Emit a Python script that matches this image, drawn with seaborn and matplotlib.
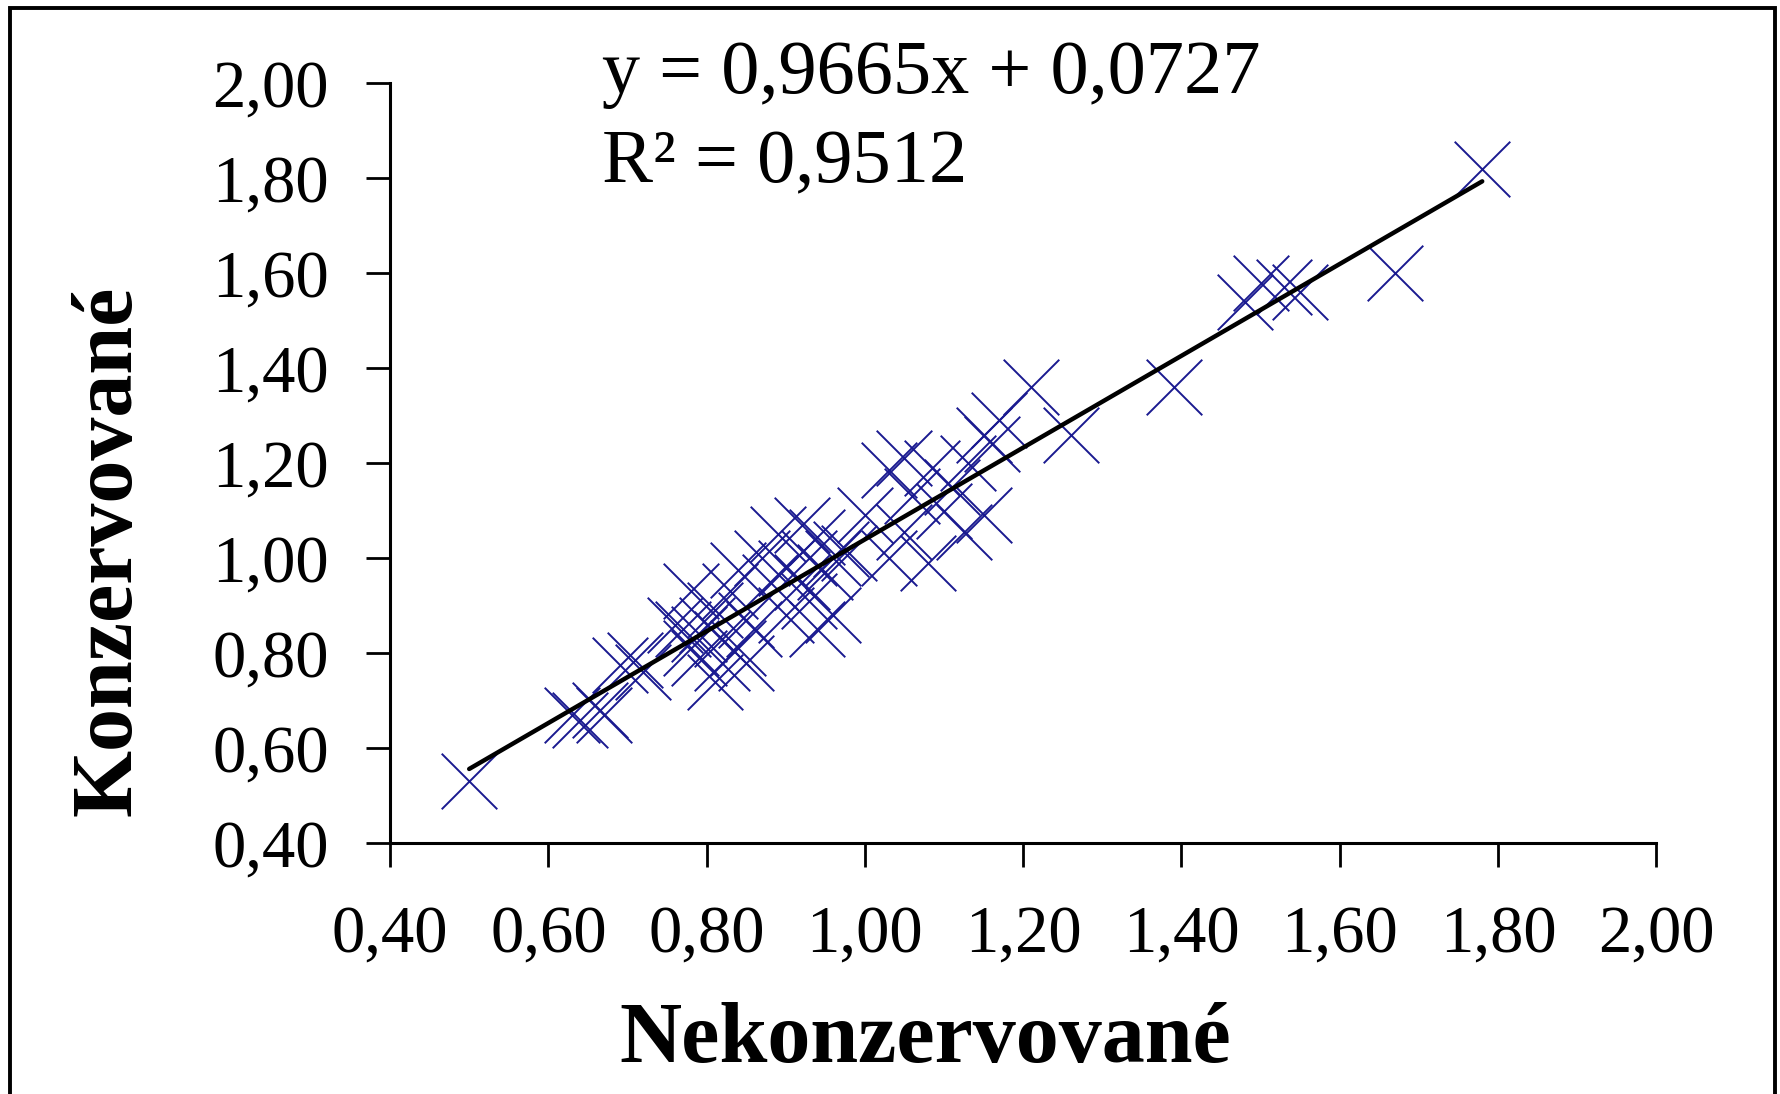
import numpy as np
import seaborn as sns
import matplotlib.pyplot as plt
from matplotlib.patches import Rectangle
from matplotlib.ticker import FixedLocator, FuncFormatter

# values
nekonzervovane = [0.50, 0.63, 0.64, 0.665, 0.67, 0.69, 0.71, 0.72, 0.76, 0.77,
                  0.78, 0.78, 0.79, 0.79, 0.80, 0.81, 0.81, 0.82, 0.82, 0.83,
                  0.84, 0.84, 0.85, 0.85, 0.86, 0.87, 0.88, 0.89, 0.90, 0.90,
                  0.92, 0.92, 0.93, 0.93, 0.94, 0.94, 0.95, 0.96, 0.96, 0.97,
                  0.98, 1.00, 1.03, 1.03, 1.05, 1.05, 1.06, 1.08, 1.085, 1.10,
                  1.11, 1.125, 1.13, 1.15, 1.15, 1.16, 1.17, 1.21, 1.26, 1.39,
                  1.48, 1.50, 1.53, 1.55, 1.67, 1.78]
konzervovane = [0.53, 0.67, 0.66, 0.68, 0.67, 0.775, 0.785, 0.76, 0.86, 0.85,
                0.93, 0.81, 0.84, 0.79, 0.86, 0.74, 0.89, 0.83, 0.78, 0.93,
                0.81, 0.975, 0.87, 0.78, 0.85, 1.00, 0.95, 1.05, 0.88, 0.98,
                1.07, 0.95, 0.91, 1.00, 1.045, 0.85, 0.97, 0.88, 1.00, 1.02,
                1.01, 1.09, 1.00, 1.185, 1.055, 1.21, 1.13, 0.99, 1.19, 1.10,
                1.15, 1.055, 1.20, 1.09, 1.26, 1.24, 1.29, 1.36, 1.26, 1.36,
                1.54, 1.58, 1.57, 1.56, 1.60, 1.82]
slope, intercept = 0.9665, 0.0727
r2 = 0.9512
ticks = [0.40, 0.60, 0.80, 1.00, 1.20, 1.40, 1.60, 1.80, 2.00]

sns.set_style('ticks')
plt.rcParams['font.family'] = ['Liberation Serif', 'DejaVu Serif']
plt.rcParams['text.color'] = 'black'
plt.rcParams['axes.labelcolor'] = 'black'

fig = plt.figure(figsize=(17.81, 10.94), dpi=100)
ax = fig.add_axes([0.219, 0.2294, 0.711, 0.6947])

sns.scatterplot(x=nekonzervovane, y=konzervovane, marker='x', s=1600,
                color='#1a1a90', linewidth=1.4, ax=ax, zorder=2)

# trend line from the printed equation
xs = np.array([min(nekonzervovane), max(nekonzervovane)])
sns.lineplot(x=xs, y=slope * xs + intercept, color='black', linewidth=3.2, ax=ax, zorder=3)

ax.set_xlim(0.40, 2.00)
ax.set_ylim(0.40, 2.00)
ax.xaxis.set_major_locator(FixedLocator(ticks))
ax.yaxis.set_major_locator(FixedLocator(ticks))
fmt = FuncFormatter(lambda v, p: f'{v:.2f}'.replace('.', ','))
ax.xaxis.set_major_formatter(fmt)
ax.yaxis.set_major_formatter(fmt)
ax.tick_params(axis='both', labelsize=48, length=17, width=2, color='black',
               pad=27, labelcolor='black')
sns.despine(ax=ax)
for side in ['left', 'bottom']:
    ax.spines[side].set_linewidth(2.2)
    ax.spines[side].set_color('black')

ax.set_xlabel('Nekonzervované', fontsize=62, fontweight='bold', color='black')
ax.set_ylabel('Konzervované', fontsize=62, fontweight='bold', color='black')
ax.xaxis.label.set_va('baseline')
ax.yaxis.label.set_va('baseline')
ax.xaxis.set_label_coords(0.4226, -0.288)
ax.yaxis.set_label_coords(-0.2046, 0.384)

fig.text(0.338, 1 - 93 / 1094, 'y = 0,9665x + 0,0727', fontsize=55,
         ha='left', va='baseline', color='black')
fig.text(0.338, 1 - 182 / 1094, f'R² = {r2:.4f}'.replace('.', ','), fontsize=55,
         ha='left', va='baseline', color='black')

# outer frame
fig.patches.append(Rectangle((10 / 1781, -0.05), 1765 / 1781, 1.05 - 8 / 1094,
                             transform=fig.transFigure, fill=False,
                             edgecolor='black', linewidth=2.8))

fig.savefig('out.png', dpi=100, facecolor='white')
